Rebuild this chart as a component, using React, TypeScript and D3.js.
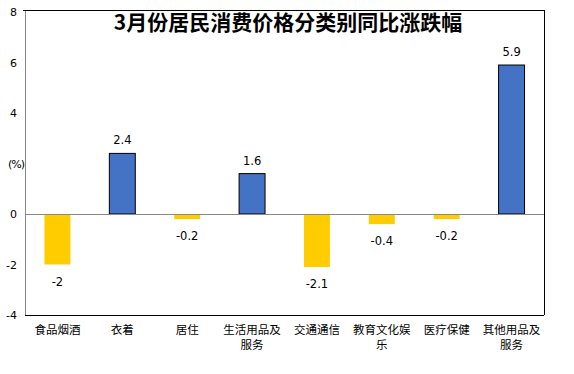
import { useEffect, useRef } from 'react';
import * as d3 from 'd3';

const categories = [
  '食品烟酒',
  '衣着',
  '居住',
  '生活用品及服务',
  '交通通信',
  '教育文化娱乐',
  '医疗保健',
  '其他用品及服务',
];
const values = [-2, 2.4, -0.2, 1.6, -2.1, -0.4, -0.2, 5.9];
// the "2" tick is hidden behind the (%) unit label in the original
const yTickLabels = [-4, -2, 0, 4, 6, 8];

const title = '3月份居民消费价格分类别同比涨跌幅';
const numFont = '"DejaVu Sans", sans-serif';
const cjkFont = '"Noto Sans CJK SC", sans-serif';

const App = () => {
  const svgRef = useRef<SVGSVGElement | null>(null);

  useEffect(() => {
    if (!svgRef.current) return;
    const width = 574;
    const height = 374;
    const left = 25;
    const right = 544;
    const top = 12;
    const bottom = 315;

    const svg = d3.select(svgRef.current);
    svg.selectAll('*').remove();
    svg.attr('width', width).attr('height', height);

    const x = d3.scaleBand().domain(categories).range([left, right]).paddingInner(0.6).paddingOuter(0.3);
    const y = d3.scaleLinear().domain([-4, 8]).range([bottom, top]);

    svg.append('rect').attr('width', width).attr('height', height).attr('fill', '#fff');

    // frame: top, right and bottom black, left gray axis
    svg.append('line').attr('x1', left - 2).attr('x2', right).attr('y1', 10.5).attr('y2', 10.5).attr('stroke', '#000');
    svg.append('line').attr('x1', right + 0.5).attr('x2', right + 0.5).attr('y1', 10).attr('y2', bottom).attr('stroke', '#000');
    svg.append('line').attr('x1', left).attr('x2', right).attr('y1', bottom + 0.5).attr('y2', bottom + 0.5).attr('stroke', '#000');
    svg.append('line').attr('x1', left + 0.5).attr('x2', left + 0.5).attr('y1', 11).attr('y2', bottom).attr('stroke', '#888');

    // y tick labels
    svg
      .selectAll('.ytick')
      .data(yTickLabels)
      .enter()
      .append('text')
      .attr('x', 17)
      .attr('y', (d) => y(d) + 4)
      .attr('text-anchor', 'end')
      .style('font-family', numFont)
      .style('font-size', '11px')
      .text((d) => String(d));

    svg
      .append('text')
      .attr('x', 16)
      .attr('y', y(2) + 4)
      .attr('text-anchor', 'middle')
      .style('font-family', numFont)
      .style('font-size', '11px')
      .style('letter-spacing', '-1px')
      .text('(%)');

    // bars
    svg
      .selectAll('.bar')
      .data(values)
      .enter()
      .append('rect')
      .attr('x', (d, i) => x(categories[i])!)
      .attr('width', x.bandwidth())
      .attr('y', (d) => y(Math.max(0, d)))
      .attr('height', (d) => Math.abs(y(d) - y(0)))
      .attr('fill', (d) => (d >= 0 ? '#4472C4' : '#FFCC00'))
      .attr('stroke', (d) => (d >= 0 ? '#000' : 'none'))
      .attr('stroke-width', 1);

    // zero line
    svg.append('line').attr('x1', left).attr('x2', right).attr('y1', y(0) + 0.5).attr('y2', y(0) + 0.5).attr('stroke', '#888');

    // value labels
    svg
      .selectAll('.val')
      .data(values)
      .enter()
      .append('text')
      .attr('x', (d, i) => x(categories[i])! + x.bandwidth() / 2)
      .attr('y', (d) => (d >= 0 ? y(d) - 9 : y(d) + 21))
      .attr('text-anchor', 'middle')
      .style('font-family', numFont)
      .style('font-size', '11.5px')
      .text((d) => String(d));

    // category labels, wrap at 5 chars
    categories.forEach((c) => {
      const cx = x(c)! + x.bandwidth() / 2;
      const lines = c.length > 5 ? [c.slice(0, 5), c.slice(5)] : [c];
      lines.forEach((ln, j) => {
        svg
          .append('text')
          .attr('x', cx)
          .attr('y', 334 + j * 15)
          .attr('text-anchor', 'middle')
          .style('font-family', cjkFont)
          .style('font-size', '11.5px')
          .text(ln);
      });
    });

    svg
      .append('text')
      .attr('x', 288)
      .attr('y', 30)
      .attr('text-anchor', 'middle')
      .style('font-family', cjkFont)
      .style('font-size', '21px')
      .style('font-weight', 'bold')
      .text(title);
  }, []);

  return <svg ref={svgRef} style={{ position: 'absolute', left: 0, top: 0 }} />;
};

export default App;
